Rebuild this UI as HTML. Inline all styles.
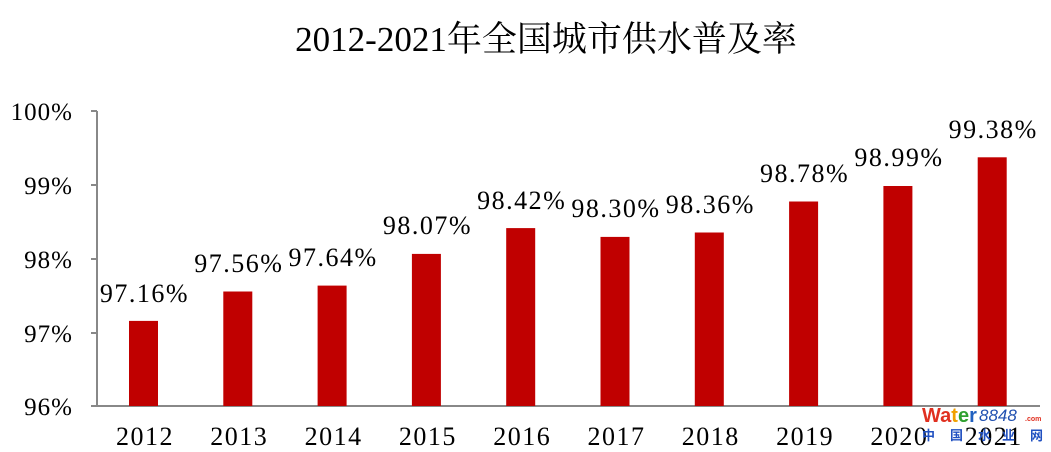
<!DOCTYPE html>
<html><head><meta charset="utf-8"><style>
body{margin:0;background:#fff;}
svg{display:block;font-family:"Liberation Serif","Noto Serif CJK SC",serif;}
</style></head><body>
<svg width="1051" height="452" viewBox="0 0 1051 452">
<text x="546" y="51" font-size="35" text-anchor="middle" fill="#000">2012-2021年全国城市供水普及率</text>
<g stroke="#888" stroke-width="2" fill="none">
<line x1="97" y1="111" x2="97" y2="406"/>
<line x1="96" y1="406" x2="1040" y2="406"/>
<line x1="91" y1="111" x2="97" y2="111"/>
<line x1="91" y1="185" x2="97" y2="185"/>
<line x1="91" y1="259" x2="97" y2="259"/>
<line x1="91" y1="333" x2="97" y2="333"/>
<line x1="91" y1="406" x2="97" y2="406"/>
</g>
<g font-size="25" text-anchor="end" fill="#000" letter-spacing="1">
<text x="73" y="120">100%</text>
<text x="73" y="194">99%</text>
<text x="73" y="268">98%</text>
<text x="73" y="342">97%</text>
<text x="73" y="415">96%</text>
</g>
<g fill="#c00000">
<rect x="129" y="320.9" width="29" height="85.1"/>
<rect x="223.3" y="291.5" width="29" height="114.5"/>
<rect x="317.6" y="285.6" width="29" height="120.4"/>
<rect x="411.9" y="253.9" width="29" height="152.1"/>
<rect x="506.2" y="228.1" width="29" height="177.9"/>
<rect x="600.5" y="236.9" width="29" height="169.1"/>
<rect x="694.8" y="232.5" width="29" height="173.5"/>
<rect x="789.1" y="201.5" width="29" height="204.5"/>
<rect x="883.4" y="186" width="29" height="220"/>
<rect x="977.7" y="157.3" width="29" height="248.7"/>
</g>
<g font-size="26" text-anchor="middle" fill="#000" letter-spacing="1.5">
<text x="144.5" y="302">97.16%</text>
<text x="238.8" y="272">97.56%</text>
<text x="333.1" y="266">97.64%</text>
<text x="427.4" y="234">98.07%</text>
<text x="521.7" y="209">98.42%</text>
<text x="616" y="217">98.30%</text>
<text x="710.3" y="213">98.36%</text>
<text x="804.6" y="182">98.78%</text>
<text x="898.9" y="166">98.99%</text>
<text x="993.2" y="138">99.38%</text>
</g>
<g font-size="26" text-anchor="middle" fill="#000" letter-spacing="1.5">
<text x="145" y="445">2012</text>
<text x="239.3" y="445">2013</text>
<text x="333.6" y="445">2014</text>
<text x="427.9" y="445">2015</text>
<text x="522.2" y="445">2016</text>
<text x="616.5" y="445">2017</text>
<text x="710.8" y="445">2018</text>
<text x="805.1" y="445">2019</text>
<text x="899.4" y="445">2020</text>
<text x="993.7" y="445">2021</text>
</g>
<g font-family="Liberation Sans,sans-serif" font-weight="bold">
<text x="922" y="422" font-size="20" fill="#e03020">Wa<tspan fill="#f0a000">t</tspan><tspan fill="#30a030">e</tspan><tspan fill="#2060c0">r</tspan></text>
<text x="979" y="421" font-size="17" font-style="italic" fill="#2050b0" font-weight="normal">8848</text>
<text x="1025" y="421" font-size="7" fill="#e03020">.com</text>
<g font-family="Noto Sans CJK SC,sans-serif" font-size="13" fill="#2050c0">
<text x="922" y="440">中</text><text x="950" y="440">国</text><text x="978" y="440">水</text><text x="1002" y="440">业</text><text x="1030" y="440">网</text>
</g>
</g>
</svg>
</body></html>
